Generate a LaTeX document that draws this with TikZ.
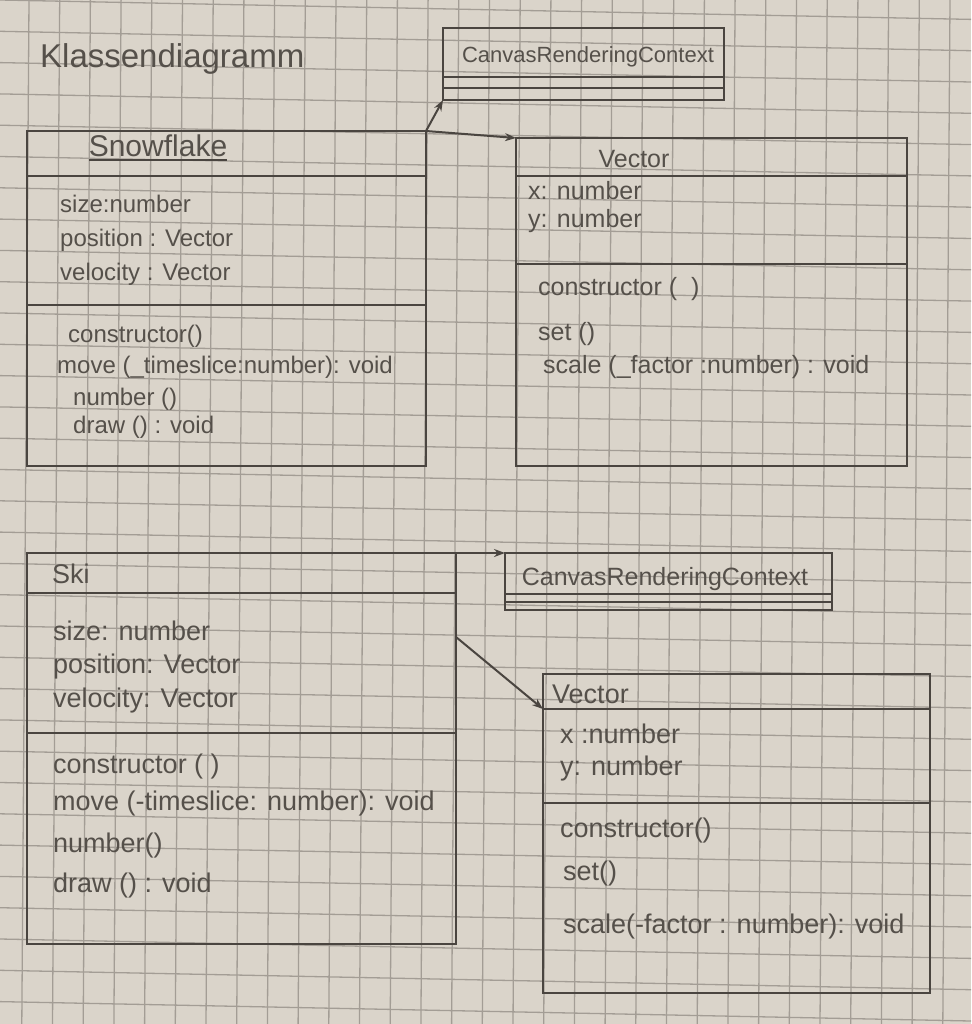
\documentclass[tikz,border=0pt]{standalone}
\usepackage{fontspec}
\setmainfont{Liberation Sans}
\usetikzlibrary{arrows.meta,calc}
\definecolor{paper}{HTML}{DAD4CA}
\definecolor{gridline}{HTML}{A39D95}
\definecolor{pencil}{HTML}{4A4540}
\definecolor{lead}{HTML}{55504A}

\begin{document}
\begin{tikzpicture}[x=1pt,y=-1pt,
  classbox/.style={draw=pencil, line width=2.2pt, rectangle, inner sep=0pt, outer sep=0pt, anchor=north west},
  rule/.style={draw=pencil, line width=2pt},
  assoc/.style={draw=pencil, line width=2pt, -{Stealth[length=11pt,width=8pt]}},
  lbl/.style={anchor=base west, inner sep=0pt, text=lead, font=\fontsize{#1}{#1}\selectfont},
  lbl/.default=24,
  cname/.style={anchor=base, inner sep=0pt, text=lead, font=\fontsize{#1}{#1}\selectfont},
  cname/.default=24
]
% graph paper
\useasboundingbox (0,0) rectangle (971,1024);
\fill[paper] (0,0) rectangle (971,1024);
\begin{scope}
  \clip (0,0) rectangle (971,1024);
  \foreach \k in {0,...,33}
    \draw[gridline, line width=1.3pt] (0,{31.3*\k}) -- (971,{31.3*\k+19.4});
  \foreach \k in {-1,...,32}
    \draw[gridline, line width=1.3pt] ({29+30.7*\k},0) -- ({21.8+30.7*\k},1024);
\end{scope}

\node[lbl=33] (title) at (40,68) {Klassendiagramm};

% CanvasRenderingContext (top)
\node[classbox, minimum width=281pt, minimum height=72pt] (crc1) at (443,28) {};
\draw[rule] ([yshift=-49pt]crc1.north west) -- ([yshift=-49pt]crc1.north east);
\draw[rule] ([yshift=-60pt]crc1.north west) -- ([yshift=-60pt]crc1.north east);
\node[cname=22] (crc1name) at (588,63) {CanvasRenderingContext};

% Snowflake
\node[classbox, minimum width=399pt, minimum height=335pt] (snow) at (27,131) {};
\draw[rule] ([yshift=-45pt]snow.north west) -- ([yshift=-45pt]snow.north east);
\draw[rule] ([yshift=-174pt]snow.north west) -- ([yshift=-174pt]snow.north east);
\node[cname=30] (snowname) at (158,157) {Snowflake};
\draw[rule, line width=1.5pt] ([yshift=-3pt]snowname.base west) -- ([yshift=-3pt]snowname.base east);
\node[lbl] (snowa1) at (60,213) {size:number};
\node[lbl] (snowa2) at (60,247) {position : Vector};
\node[lbl] (snowa3) at (60,280) {velocity : Vector};
\node[lbl] (snowm1) at (68,342) {constructor()};
\node[lbl] (snowm2) at (57,373) {move (\_timeslice:number): void};
\node[lbl] (snowm3) at (73,405) {number ()};
\node[lbl] (snowm4) at (73,433) {draw () : void};

% Vector (top)
\node[classbox, minimum width=391pt, minimum height=328pt] (vec1) at (516,138) {};
\draw[rule] ([yshift=-38.5pt]vec1.north west) -- ([yshift=-38.5pt]vec1.north east);
\draw[rule] ([yshift=-125.5pt]vec1.north west) -- ([yshift=-125.5pt]vec1.north east);
\node[cname=25] (vec1name) at (634,168) {Vector};
\node[lbl=25] (vec1a1) at (528,200) {x: number};
\node[lbl=25] (vec1a2) at (528,227) {y: number};
\node[lbl=25] (vec1m1) at (538,295) {constructor ( \ )};
\node[lbl=25] (vec1m2) at (538,340) {set ()};
\node[lbl=25] (vec1m3) at (543,373) {scale (\_factor :number) : void};

% Ski
\node[classbox, minimum width=429pt, minimum height=391pt] (ski) at (27,553) {};
\draw[rule] ([yshift=-40pt]ski.north west) -- ([yshift=-40pt]ski.north east);
\draw[rule] ([yshift=-180pt]ski.north west) -- ([yshift=-180pt]ski.north east);
\node[lbl=27] (skiname) at (52,583) {Ski};
\node[lbl=27] (skia1) at (53,640) {size: number};
\node[lbl=27] (skia2) at (53,673) {position: Vector};
\node[lbl=27] (skia3) at (53,707) {velocity: Vector};
\node[lbl=27] (skim1) at (53,773) {constructor ( )};
\node[lbl=27] (skim2) at (53,810) {move (-timeslice: number): void};
\node[lbl=27] (skim3) at (53,852) {number()};
\node[lbl=27] (skim4) at (53,892) {draw () : void};

% CanvasRenderingContext (bottom)
\node[classbox, minimum width=327pt, minimum height=57pt] (crc2) at (505,553) {};
\draw[rule] ([yshift=-41pt]crc2.north west) -- ([yshift=-41pt]crc2.north east);
\draw[rule] ([yshift=-49pt]crc2.north west) -- ([yshift=-49pt]crc2.north east);
\node[cname=25] (crc2name) at (665,585) {CanvasRenderingContext};

% Vector (bottom)
\node[classbox, minimum width=387pt, minimum height=319pt] (vec2) at (543,674) {};
\draw[rule] ([yshift=-35pt]vec2.north west) -- ([yshift=-35pt]vec2.north east);
\draw[rule] ([yshift=-129pt]vec2.north west) -- ([yshift=-129pt]vec2.north east);
\node[lbl=27] (vec2name) at (552,703) {Vector};
\node[lbl=27] (vec2a1) at (560,743) {x :number};
\node[lbl=27] (vec2a2) at (560,775) {y: number};
\node[lbl=27] (vec2m1) at (560,837) {constructor()};
\node[lbl=27] (vec2m2) at (563,880) {set()};
\node[lbl=27] (vec2m3) at (563,933) {scale(-factor : number): void};

% associations
\draw[assoc] (snow.north east) -- (crc1.south west);
\draw[assoc] (snow.north east) -- (vec1.north west);
\draw[assoc] (ski.north east) -- (ski.north east -| crc2.west);
\draw[assoc] ([yshift=-84pt]ski.north east) -- ([yshift=-35pt]vec2.north west);
\end{tikzpicture}
\end{document}
